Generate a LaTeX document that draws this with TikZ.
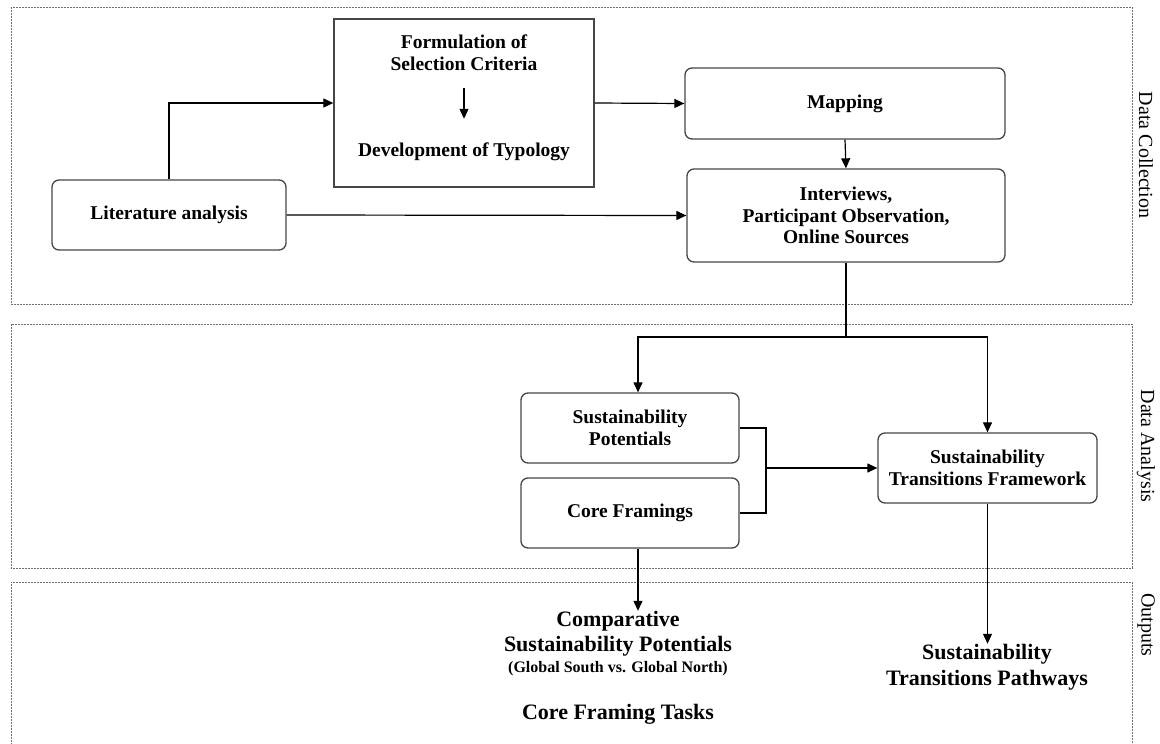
\documentclass[tikz,border=0pt]{standalone}
\usepackage{fontspec}
\setmainfont{Liberation Serif}
\usetikzlibrary{arrows.meta, positioning, calc}
\definecolor{edge}{RGB}{70, 70, 70}
\definecolor{panelc}{RGB}{110, 110, 110}
\begin{document}
\begin{tikzpicture}[
  x=1pt, y=-1pt,
  box/.style={draw=edge, line width=1.3pt, rounded corners=7pt, align=center, inner sep=0pt,
    font=\bfseries\fontsize{19.5}{21.5}\selectfont},
  sqbox/.style={draw=edge, line width=1.3pt, inner sep=0pt},
  txt/.style={align=center, inner sep=0pt, font=\bfseries\fontsize{19.5}{21.5}\selectfont},
  outtxt/.style={align=center, inner sep=0pt, font=\bfseries\fontsize{22}{25}\selectfont},
  panel/.style={draw=panelc, line width=0.9pt, dash pattern=on 2pt off 1pt},
  side/.style={rotate=-90, font=\fontsize{20}{22}\selectfont},
  arr/.style={-{Triangle[length=10pt, width=9pt]}, line width=1.2pt},
  ln/.style={line width=1.2pt}
]
\useasboundingbox (0,0) rectangle (1160,744);
\draw[panel] (11,7) rectangle (1132,304);
\draw[panel] (11,324) rectangle (1132,568);
\draw[panel] (11,760) -- (11,582) -- (1132,582) -- (1132,760);
\node[side] (dc) at (1146,155) {Data Collection};
\node[side] (da) at (1146,446) {Data Analysis};
\node[side] (op) at (1146,625) {Outputs};

\node[box, minimum width=234pt, minimum height=70pt] (lit) at (169,215) {Literature analysis};
\node[sqbox, minimum width=260pt, minimum height=168pt] (crit) at (464,103) {};
\node[txt] (sel) at (464,52.5) {Formulation of\\Selection Criteria};
\node[txt] (typ) at (464,152) {Development of Typology};
\node[box, minimum width=320pt, minimum height=71pt] (map) at (845,103.5) {Mapping};
\node[box, minimum width=318pt, minimum height=93pt] (intv) at (846,215.5) {Interviews,\\Participant Observation,\\Online Sources};
\node[box, minimum width=218pt, minimum height=70pt] (sp) at (630,428) {Sustainability\\Potentials};
\node[box, minimum width=218pt, minimum height=70pt] (cf) at (630,513) {Core Framings};
\node[box, minimum width=219pt, minimum height=70pt] (stf) at (987.5,468) {Sustainability\\Transitions Framework};
\node[outtxt] (cmp) at (618,633.5) {Comparative\\Sustainability Potentials};
\node[align=center, inner sep=0pt, font=\bfseries\fontsize{16}{18}\selectfont] (glob) at (618,669) {(Global South vs. Global North)};
\node[outtxt] (core) at (618,714) {Core Framing Tasks};
\node[outtxt, font=\bfseries\fontsize{22}{26}\selectfont] (path) at (987,667) {Sustainability\\Transitions Pathways};

\coordinate (split) at (846,337);
\coordinate (join) at (766,468);

\draw[arr] (lit.north) |- (crit.west);
\draw[arr, shorten <=18pt, shorten >=24pt] (sel.south) -- (typ.north);
\draw[arr] (crit.east) -- (map.west);
\draw[arr] (lit.east) -- (intv.west);
\draw[arr] (map.south) -- (intv.north);
\draw[ln] (intv.south) -- (split);
\draw[arr] (split) -| ([xshift=8pt]sp.north);
\draw[arr] (split) -| (stf.north);
\draw[ln] (sp.east) -- (sp.east -| join) |- (cf.east);
\draw[arr] (join) -- (join -| stf.west);
\draw[arr] ([xshift=8pt]cf.south) -- ([xshift=8pt]cf.south |- cmp.north);
\draw[arr] (stf.south) -- (stf.south |- path.north);
\end{tikzpicture}
\end{document}
